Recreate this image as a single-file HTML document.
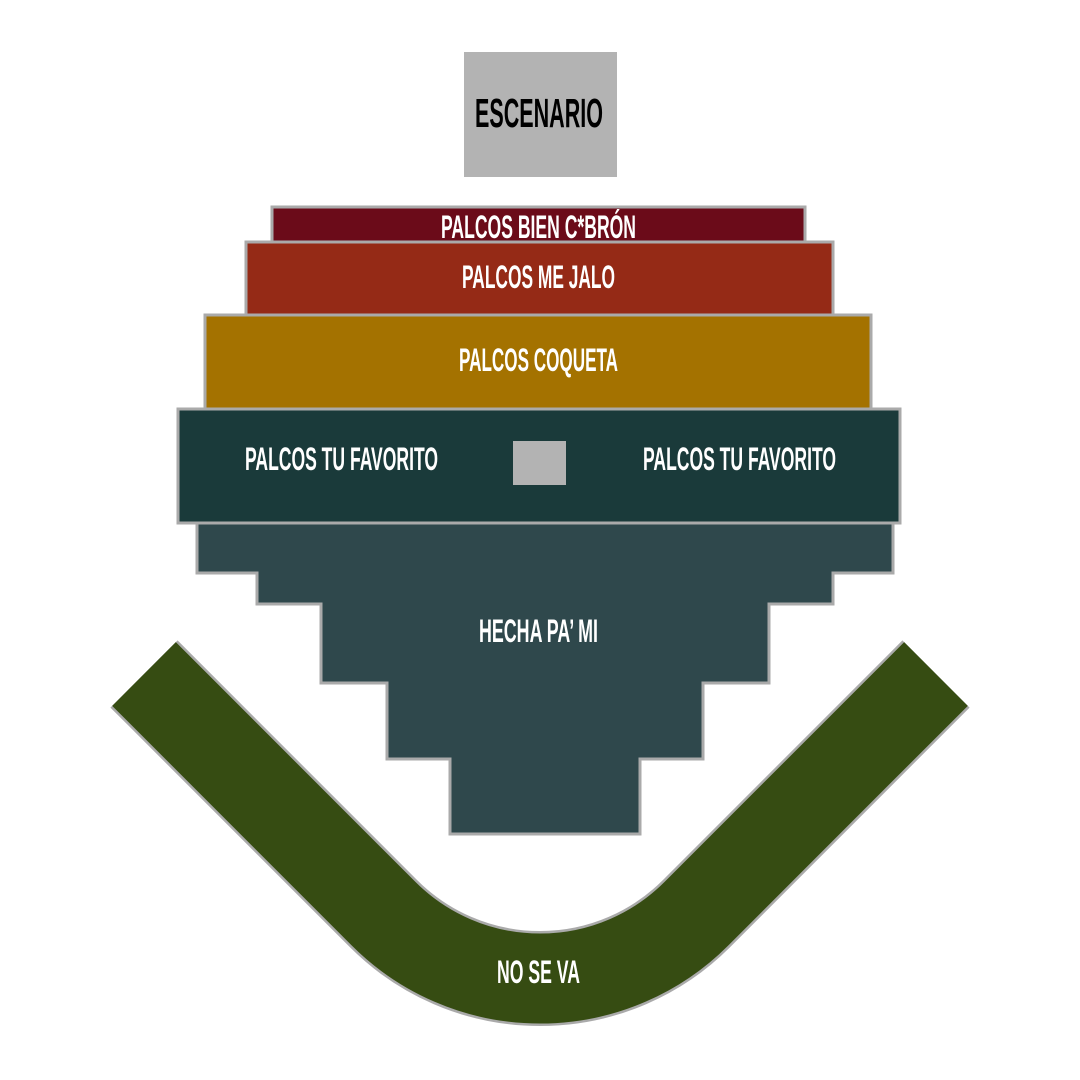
<!DOCTYPE html>
<html><head><meta charset="utf-8"><style>
html,body{margin:0;padding:0;background:#fff}
svg{display:block}
text{font-family:"Liberation Sans Narrow","Liberation Sans",sans-serif;font-weight:bold;fill:#fff;font-size:32px}
</style></head><body>
<svg width="1080" height="1080" viewBox="0 0 1080 1080">
<rect x="464" y="52" width="153" height="125" fill="#b3b3b3"/>
<text x="475" y="127" textLength="128" lengthAdjust="spacingAndGlyphs" style="fill:#000;font-size:41px">ESCENARIO</text>
<g stroke="#aaa" stroke-width="3">
<rect x="272" y="207" width="533" height="37" fill="#6b0b19"/>
<rect x="246" y="242" width="587" height="74" fill="#952a16"/>
<rect x="205" y="315" width="666" height="95" fill="#a47200"/>
<polygon points="197,522 893,522 893,573 833,573 833,604 769,604 769,683 703,683 703,759 640,759 640,834 450,834 450,759 387,759 387,683 321,683 321,604 257,604 257,573 197,573" fill="#2f484c"/>
<rect x="178" y="409" width="722" height="114" fill="#1a3a3a"/>
</g>
<rect x="513" y="441" width="53" height="44" fill="#b3b3b3"/>
<path d="M144,674 L383.7,913.8 A221,221 0 0 0 696.3,913.8 L936,674" fill="none" stroke="#aaa" stroke-width="95"/>
<path d="M144,674 L383.7,913.8 A221,221 0 0 0 696.3,913.8 L936,674" fill="none" stroke="#364c12" stroke-width="90"/>
<text x="441" y="238" textLength="195" lengthAdjust="spacingAndGlyphs">PALCOS BIEN C*BRÓN</text>
<text x="462" y="288" textLength="153" lengthAdjust="spacingAndGlyphs">PALCOS ME JALO</text>
<text x="459" y="371" textLength="159" lengthAdjust="spacingAndGlyphs">PALCOS COQUETA</text>
<text x="245" y="470" textLength="193" lengthAdjust="spacingAndGlyphs">PALCOS TU FAVORITO</text>
<text x="643" y="470" textLength="193" lengthAdjust="spacingAndGlyphs">PALCOS TU FAVORITO</text>
<text x="479" y="642" textLength="119" lengthAdjust="spacingAndGlyphs">HECHA PA’ MI</text>
<text x="497" y="983" textLength="83" lengthAdjust="spacingAndGlyphs">NO SE VA</text>
</svg>
</body></html>
